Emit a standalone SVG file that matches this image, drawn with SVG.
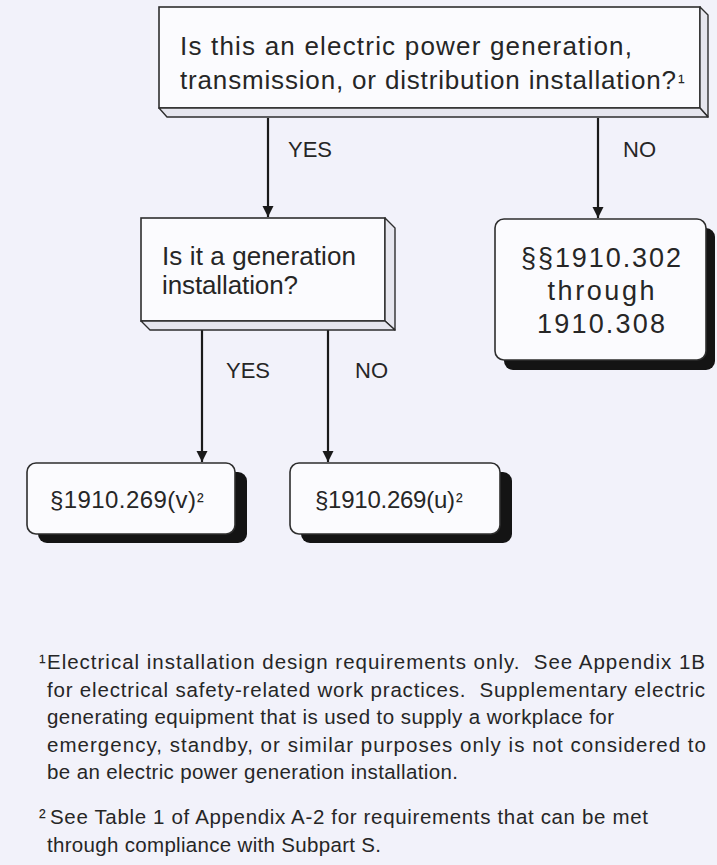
<svg xmlns="http://www.w3.org/2000/svg" width="717" height="865" viewBox="0 0 717 865">
<defs>
<style>
.bg{fill:#f2f2fa}
.box{fill:#fbfbfe;stroke:#2e2e2e;stroke-width:1.6}
.bevel{fill:#e6e6ee;stroke:#2e2e2e;stroke-width:1.4;stroke-linejoin:round}
.shadow{fill:#141414}
.t{font-family:"Liberation Sans",Arial,sans-serif;fill:#262626;white-space:pre}
.q{font-size:26px}
.r{font-size:27px;text-anchor:middle}
.s{font-size:24px}
.lbl{font-size:22px}
.fn{font-size:20.5px}
.sup{font-size:20px}
.conn{stroke:#1a1a1a;stroke-width:2.2;fill:none;marker-end:url(#arr)}
</style>
<marker id="arr" markerUnits="userSpaceOnUse" markerWidth="12" markerHeight="12" viewBox="0 0 12 12" refX="11" refY="6" orient="auto">
<path d="M0,0.5 L11,6 L0,11.5 z" fill="#1a1a1a"/>
</marker>
</defs>
<rect class="bg" x="0" y="0" width="717" height="865"/>

<g id="connectors">
<line class="conn" x1="268" y1="118" x2="268" y2="217"/>
<line class="conn" x1="598" y1="118" x2="598" y2="218"/>
<line class="conn" x1="202" y1="330" x2="202" y2="462"/>
<line class="conn" x1="328" y1="330" x2="328" y2="462"/>
<text class="t lbl" x="288" y="157">YES</text>
<text class="t lbl" x="623" y="157">NO</text>
<text class="t lbl" x="226" y="378">YES</text>
<text class="t lbl" x="355" y="378">NO</text>
</g>

<g id="n1">
<rect class="box" x="159" y="7" width="541" height="101"/>
<polygon class="bevel" points="700,7 708,15 708,117 700,108"/>
<polygon class="bevel" points="159,108 700,108 708,117 167,117"/>
<text class="t q" x="180" y="55" textLength="452">Is this an electric power generation,</text>
<text class="t q" x="180" y="89" textLength="496">transmission, or distribution installation?</text>
<text class="t sup" x="678" y="89">¹</text>
</g>

<g id="n2">
<rect class="box" x="141" y="218" width="244" height="103"/>
<polygon class="bevel" points="385,218 395,228 395,330 385,321"/>
<polygon class="bevel" points="141,321 385,321 395,330 150,330"/>
<text class="t q" x="162" y="265" textLength="194">Is it a generation</text>
<text class="t q" x="162" y="294" textLength="136">installation?</text>
</g>

<g id="n3">
<rect class="shadow" x="504" y="228" width="211" height="142" rx="9"/>
<rect class="box" x="495" y="219" width="211" height="141" rx="9"/>
<text class="t r" x="601" y="267" textLength="160">§§1910.302</text>
<text class="t r" x="601" y="300" textLength="107">through</text>
<text class="t r" x="601" y="333" textLength="128">1910.308</text>
</g>

<g id="n4">
<rect class="shadow" x="38" y="472" width="209" height="71" rx="9"/>
<rect class="box" x="27" y="463" width="208" height="71" rx="9"/>
<text class="t s" x="50" y="508" textLength="146">§1910.269(v)</text>
<text class="t sup" x="197" y="508">²</text>
</g>

<g id="n5">
<rect class="shadow" x="301" y="472" width="211" height="71" rx="9"/>
<rect class="box" x="290" y="463" width="210" height="71" rx="9"/>
<text class="t s" x="315" y="508" textLength="140">§1910.269(u)</text>
<text class="t sup" x="456" y="508">²</text>
</g>

<g id="footnotes">
<text class="t sup" x="39" y="669">¹</text>
<text class="t fn" x="47" y="669" textLength="658">Electrical installation design requirements only.  See Appendix 1B</text>
<text class="t fn" x="47" y="697" textLength="658">for electrical safety-related work practices.  Supplementary electric</text>
<text class="t fn" x="47" y="724" textLength="567">generating equipment that is used to supply a workplace for</text>
<text class="t fn" x="47" y="752" textLength="659">emergency, standby, or similar purposes only is not considered to</text>
<text class="t fn" x="47" y="779" textLength="411">be an electric power generation installation.</text>
<text class="t sup" x="39" y="824">²</text>
<text class="t fn" x="50" y="824" textLength="598">See Table 1 of Appendix A-2 for requirements that can be met</text>
<text class="t fn" x="47" y="852" textLength="334">through compliance with Subpart S.</text>
</g>
</svg>
